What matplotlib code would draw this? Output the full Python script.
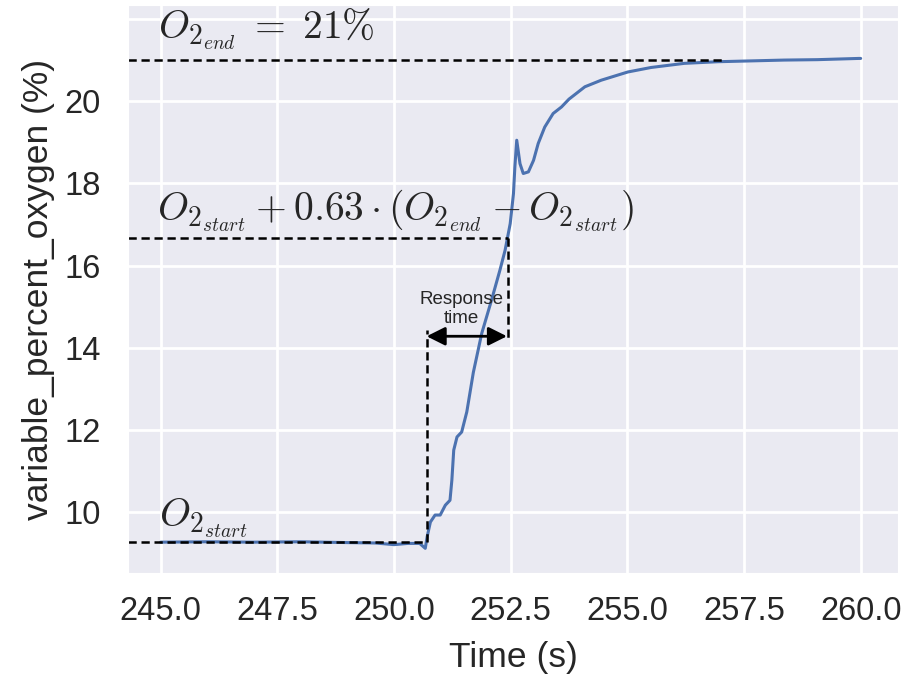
import matplotlib
matplotlib.use("Agg")
import matplotlib.pyplot as plt
import seaborn as sns

# oxygen trace (time in s, O2 in %)
time_s = [245.0, 246.0, 247.0, 248.0, 249.0, 249.6, 250.0, 250.3, 250.55,
          250.67, 250.71, 250.78, 250.88, 250.99, 251.10, 251.20, 251.24,
          251.28, 251.35, 251.45, 251.56, 251.70, 251.88, 252.09, 252.27,
          252.38, 252.49, 252.56, 252.59, 252.63, 252.70, 252.77, 252.88,
          252.99, 253.09, 253.23, 253.41, 253.59, 253.75, 254.09, 254.44,
          255.01, 255.51, 256.22, 256.94, 257.65, 258.36, 259.07, 259.96, 260.0]
oxygen_pct = [9.27, 9.28, 9.27, 9.28, 9.26, 9.25, 9.21, 9.24, 9.24,
              9.12, 9.40, 9.76, 9.93, 9.93, 10.17, 10.29, 10.78,
              11.51, 11.83, 11.95, 12.44, 13.40, 14.35, 15.16, 15.89,
              16.37, 17.02, 17.75, 18.40, 19.05, 18.48, 18.24, 18.28,
              18.56, 18.97, 19.37, 19.70, 19.86, 20.05, 20.35, 20.51,
              20.71, 20.82, 20.92, 20.96, 20.98, 21.00, 21.01, 21.04, 21.04]

O2_START = 9.27
O2_END = 21.0
T_START = 250.7
T_63 = 252.45
O2_63 = O2_START + 0.63 * (O2_END - O2_START)

YTICKS = [10, 12, 14, 16, 18, 20, 22]
YTICK_LABELS = ["10", "12", "14", "16", "18", "20", ""]
XTICKS = [245.0, 247.5, 250.0, 252.5, 255.0, 257.5, 260.0]

sns.set_style("darkgrid")
plt.rcParams["font.family"] = ["Liberation Sans", "DejaVu Sans"]
plt.rcParams["mathtext.fontset"] = "cm"

fig = plt.figure(figsize=(9.08, 6.81), dpi=100)
ax = fig.add_axes([128 / 908, 108 / 681, 770 / 908, 568 / 681])

ax.plot(time_s, oxygen_pct, color="#4C72B0", lw=2.2)

XMIN, XMAX = 244.3, 260.8
ax.set_xlim(XMIN, XMAX)
ax.set_ylim(8.52, 22.34)

dash = dict(color="k", ls="--", lw=1.8, dashes=(3.3, 1.9))
ax.plot([XMIN, 257.1], [O2_END, O2_END], **dash)
ax.plot([XMIN, T_63], [O2_63, O2_63], **dash)
ax.plot([T_63, T_63], [O2_63, 14.18], **dash)
ax.plot([XMIN, T_START], [O2_START, O2_START], **dash)
ax.plot([T_START, T_START], [O2_START, 14.43], **dash)

ax.annotate("", xy=(T_START, 14.28), xytext=(T_63 - 0.03, 14.28),
            arrowprops=dict(arrowstyle="<|-|>", color="k", lw=2,
                            mutation_scale=28, shrinkA=0, shrinkB=0))
ax.text(251.45, 14.5, "Response\ntime", ha="center", va="bottom",
        multialignment="center", fontsize=13.5, color="#262626")

mfs = 28.5
ax.text(244.95, 21.2, r"$O_{2_{end}}\;=\;21\%$", fontsize=mfs, va="bottom")
ax.text(244.93, 16.77, r"$O_{2_{start}} + 0.63 \cdot (O_{2_{end}} - O_{2_{start}})$",
        fontsize=mfs, va="bottom")
ax.text(244.97, 9.33, r"$O_{2_{start}}$", fontsize=mfs, va="bottom")

ax.set_xticks(XTICKS)
ax.set_xticklabels([f"{x:.1f}" for x in XTICKS])
ax.set_yticks(YTICKS)
ax.set_yticklabels(YTICK_LABELS)
ax.tick_params(axis="x", labelsize=23.5, colors="#262626", pad=13)
ax.tick_params(axis="y", labelsize=23.5, colors="#262626", pad=16)
ax.set_xlabel("Time (s)", fontsize=25.5, color="#262626", labelpad=10)
ax.set_ylabel("variable_percent_oxygen (%)", fontsize=25.5, color="#262626",
              labelpad=7)
for line in ax.get_xgridlines() + ax.get_ygridlines():
    line.set_linewidth(2)

fig.savefig("out.png", dpi=100)
